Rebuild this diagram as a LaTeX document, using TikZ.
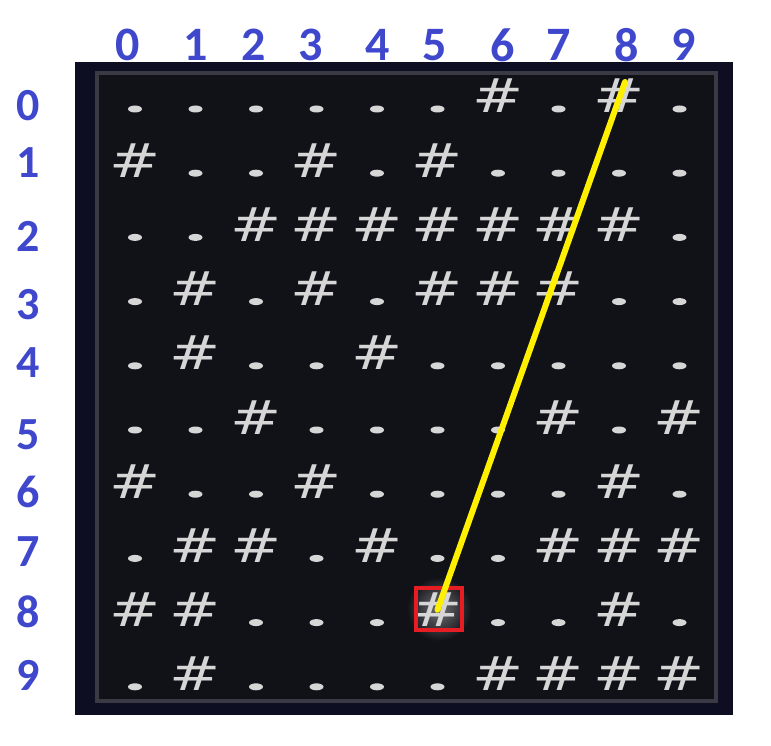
\documentclass[tikz,border=0pt]{standalone}
\usepackage{fontspec}
\usepackage{graphicx}
\newfontfamily\labelfont{Carlito}
\newfontfamily\hashfont{DejaVu Sans}
\usetikzlibrary{shapes.geometric, positioning, calc}
\definecolor{labelblue}{RGB}{63,72,204}
\definecolor{framenavy}{RGB}{14,14,34}
\definecolor{boardbg}{RGB}{17,17,24}
\definecolor{boardrim}{RGB}{58,58,68}
\definecolor{cellgray}{RGB}{214,214,214}
\definecolor{beamyellow}{RGB}{255,240,0}
\definecolor{markred}{RGB}{230,30,36}
\newcommand{\hashmark}{\scalebox{1.3}[1]{\#}}
\tikzset{
	collabel/.style={text=labelblue, inner sep=0pt, font=\labelfont\bfseries\fontsize{48}{48}\selectfont},
	rowlabel/.style={text=labelblue, inner sep=0pt, font=\labelfont\bfseries\fontsize{46}{46}\selectfont},
	dotcell/.style={ellipse, fill=cellgray, inner sep=0pt, minimum width=14pt, minimum height=7pt},
	hashcell/.style={text=cellgray, inner sep=0pt, anchor=base, font=\hashfont\fontsize{47}{47}\selectfont},
	beam/.style={draw=beamyellow, line width=6pt, line cap=round}
}

\begin{document}
\begin{tikzpicture}[x=1pt, y=-1pt]
	\useasboundingbox (0,0) rectangle (771,746);
	\fill[framenavy] (75,62) rectangle (733,715);
	\filldraw[fill=boardbg, draw=boardrim, line width=4pt] (97,73) rectangle (716,701);
	\shade[inner color=white!40!boardbg, outer color=boardbg] (439,609) circle (32pt);
	\foreach \c/\x in {0/128,1/196,2/254,3/311,4/378,5/435,6/503,7/559,8/627,9/684}
		\node[collabel] (col\c) at (\x,45) {\c};
	\foreach \r/\y in {0/106,1/163,2/236,3/305,4/363,5/435,6/492,7/552,8/612,9/675}
		\node[rowlabel] (row\r) at (28,\y) {\r};
	\foreach \r/\cells in {0/{0,0,0,0,0,0,1,0,1,0}, 1/{1,0,0,1,0,1,0,0,0,0},
			2/{0,0,1,1,1,1,1,1,1,0}, 3/{0,1,0,1,0,1,1,1,0,0}, 4/{0,1,0,0,1,0,0,0,0,0},
			5/{0,0,1,0,0,0,0,1,0,1}, 6/{1,0,0,1,0,0,0,0,1,0}, 7/{0,1,1,0,1,0,0,1,1,1},
			8/{1,1,0,0,0,1,0,0,1,0}, 9/{0,1,0,0,0,0,1,1,1,1}}
		\foreach \v [count=\c from 0] in \cells {
			\ifnum\v=1
				\node[hashcell] (c\r\c) at ({135+60.5*\c},{113+64.2*\r}) {\hashmark};
			\else
				\node[dotcell] (c\r\c) at ({135+60.5*\c},{109+64.2*\r}) {};
			\fi
		};
	\node[draw=markred, line width=4pt, minimum width=46pt, minimum height=42pt] (target) at (439,609) {};
	\coordinate (beamtop) at (625,82);
	\draw[beam] (beamtop) -- (c85.center);
\end{tikzpicture}
\end{document}
